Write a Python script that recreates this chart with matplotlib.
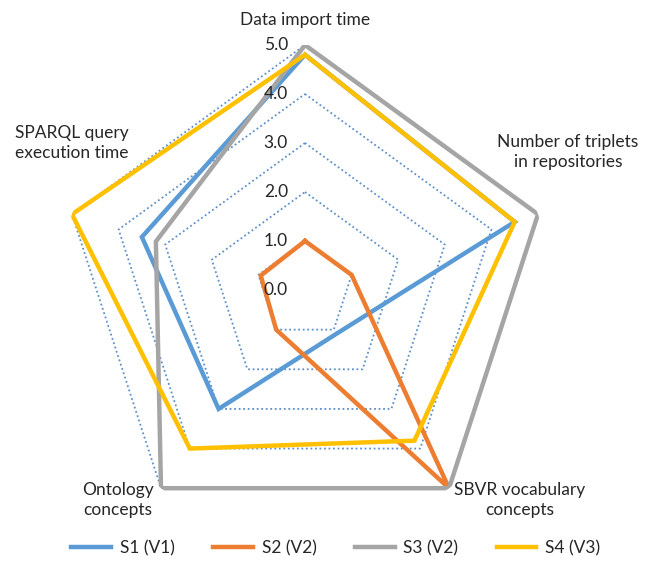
import numpy as np
import matplotlib
matplotlib.use("Agg")
import matplotlib.pyplot as plt
from matplotlib.lines import Line2D
import matplotlib.transforms as mtransforms

plt.rcParams['font.family'] = ['Lato', 'DejaVu Sans']

categories = ["Data import time", "Number of triplets\nin repositories",
              "SBVR vocabulary\nconcepts", "Ontology\nconcepts",
              "SPARQL query\nexecution time"]
series_names = ["S1 (V1)", "S2 (V2)", "S3 (V2)", "S4 (V3)"]
s1 = [4.8, 4.5, 1.1, 3.0, 3.5]
s2 = [1.0, 1.0, 5.0, 1.0, 0.95]
s3 = [5.0, 5.0, 5.0, 5.0, 3.2]
s4 = [4.8, 4.5, 3.8, 4.0, 5.0]
tick_values = [0.0, 1.0, 2.0, 3.0, 4.0, 5.0]
colors = ["#5B9BD5", "#ED7D31", "#A5A5A5", "#FFC000"]

W, H = 661, 567
fig = plt.figure(figsize=(W / 100, H / 100), dpi=100)
cx, cy, R = 305, 290, 245
ax = fig.add_axes([(cx - R) / W, (H - cy - R) / H, 2 * R / W, 2 * R / H], projection='polar')
ax.set_theta_offset(np.pi / 2)
ax.set_theta_direction(-1)
ax.set_ylim(0, 5)
ax.grid(False)
ax.spines['polar'].set_visible(False)
ax.set_xticks([])
ax.set_yticks([])
ax.patch.set_alpha(0)

n = len(categories)
angles = np.arange(n) * 2 * np.pi / n
closed = np.append(angles, angles[0])

# pentagon gridlines
for v in tick_values[1:]:
    ax.plot(closed, [v] * (n + 1), color="#5E8FC8", lw=1.3, ls=(0, (1, 1.5)), zorder=1)

for name, vals, c in zip(series_names, [s1, s2, s3, s4], colors):
    ax.plot(closed, list(vals) + [vals[0]], color=c, lw=3.2, solid_joinstyle='miter', zorder=3, label=name)

FS = 12.5
TXT = '#262626'
# radial value labels
off = mtransforms.offset_copy(ax.transData, fig=fig, x=-17, y=0, units='dots')
for v in tick_values:
    ax.text(0, v, f"{v:.1f}", transform=off, ha='right', va='center', fontsize=FS, color=TXT, zorder=4)

# category labels (pixel positions)
label_pos = [(305, 20, 'center'), (568, 152, 'center'), (520, 500, 'center'),
             (118, 500, 'center'), (15, 143, 'left')]
for text, (x, y, ha) in zip(categories, label_pos):
    fig.text(x / W, 1 - y / H, text, ha=ha, va='center', fontsize=FS, color=TXT, linespacing=1.3)

handles = [Line2D([0], [0], color=c, lw=3.2) for c in colors]
fig.legend(handles, series_names, loc='center', bbox_to_anchor=(0.508, 1 - 548 / H), ncol=4,
           frameon=False, fontsize=FS, handlelength=2.3, columnspacing=2.2, handletextpad=0.5,
           labelcolor=TXT)

fig.savefig("out.png", dpi=100)
